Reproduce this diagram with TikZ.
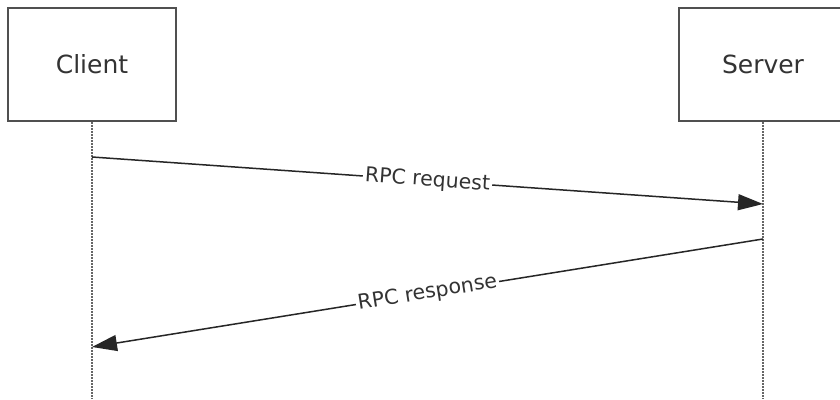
\documentclass[tikz,border=0pt]{standalone}
\usepackage{fontspec}
\setmainfont{DejaVu Sans}
\usetikzlibrary{arrows.meta}
\definecolor{boxline}{HTML}{505050}
\definecolor{lifeline}{HTML}{666666}
\definecolor{txt}{HTML}{333333}
\tikzset{
  actor/.style={draw=boxline, line width=2pt, fill=white, minimum width=168pt, minimum height=113pt, inner sep=0pt, font=\fontsize{25}{30}\selectfont, text=txt},
  life/.style={draw=lifeline, line width=2.2pt, dash pattern=on 1.6pt off 1.4pt},
  msg/.style={draw=black!85, line width=1.5pt, -{Triangle[length=25pt, width=16pt]}},
  msglabel/.style={sloped, fill=white, inner sep=2pt, font=\fontsize{20.5}{24}\selectfont, text=txt}
}
\begin{document}
\begin{tikzpicture}[x=1pt,y=1pt]
\useasboundingbox (0,0) rectangle (840,399);
\clip (0,0) rectangle (840,399);
\fill[white] (0,0) rectangle (840,399);
\node[actor] (client) at (92,334.5) {Client};
\node[actor] (server) at (763,334.5) {Server};
\coordinate (cend) at (92,0);
\coordinate (send) at (763,0);
\draw[life] (client.south) -- (cend);
\draw[life] (server.south) -- (send);
\coordinate (c1) at (92,242);
\coordinate (s1) at (763,195);
\coordinate (s2) at (763,160);
\coordinate (c2) at (92,52);
\draw[msg] (c1) -- node[msglabel] {RPC request} (s1);
\draw[msg] (s2) -- node[msglabel] {RPC response} (c2);
\end{tikzpicture}
\end{document}
